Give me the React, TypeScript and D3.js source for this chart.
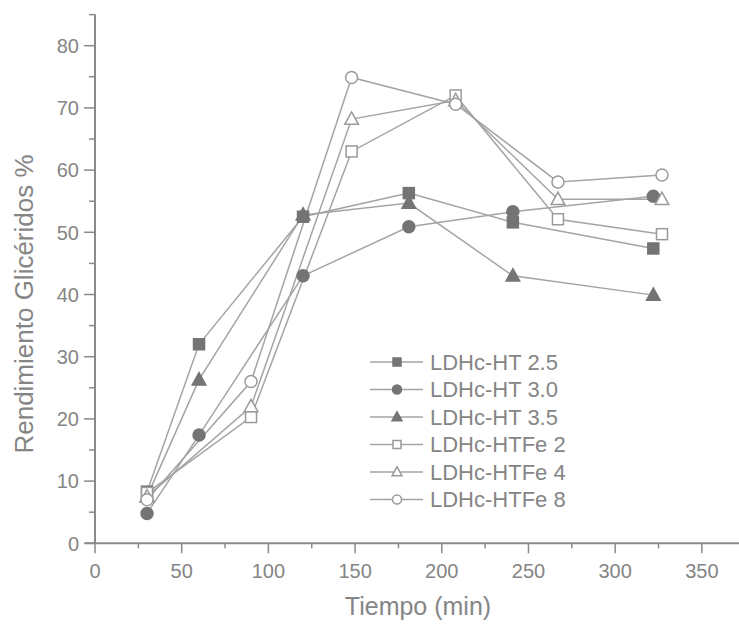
import React from "react";
import * as d3 from "d3";

const filledTime = [30, 60, 120, 181, 241, 322];
const openTime = [30, 90, 148, 208, 267, 327];

const ht25 = [8.3, 32.0, 52.5, 56.3, 51.6, 47.4];
const ht30 = [4.8, 17.4, 43.0, 50.9, 53.3, 55.8];
const ht35 = [7.5, 26.3, 52.8, 54.7, 43.0, 39.9];
const htfe2 = [8.1, 20.3, 63.0, 72.0, 52.1, 49.7];
const htfe4 = [7.5, 22.0, 68.2, 71.2, 55.3, 55.3];
const htfe8 = [7.0, 26.0, 74.9, 70.6, 58.1, 59.2];

const seriesNames = ["LDHc-HT 2.5", "LDHc-HT 3.0", "LDHc-HT 3.5", "LDHc-HTFe 2", "LDHc-HTFe 4", "LDHc-HTFe 8"];
const xTicks = [0, 50, 100, 150, 200, 250, 300, 350];
const yTicks = [0, 10, 20, 30, 40, 50, 60, 70, 80];

type Shape = "square" | "circle" | "triangle";
const series: { name: string; x: number[]; y: number[]; shape: Shape; filled: boolean }[] = [
  { name: seriesNames[0], x: filledTime, y: ht25, shape: "square", filled: true },
  { name: seriesNames[1], x: filledTime, y: ht30, shape: "circle", filled: true },
  { name: seriesNames[2], x: filledTime, y: ht35, shape: "triangle", filled: true },
  { name: seriesNames[3], x: openTime, y: htfe2, shape: "square", filled: false },
  { name: seriesNames[4], x: openTime, y: htfe4, shape: "triangle", filled: false },
  { name: seriesNames[5], x: openTime, y: htfe8, shape: "circle", filled: false },
];

const LINE = "#a4a4a4";
const DARK = "#747474";
const TEXT = "#858585";
const AXIS = "#8a8a8a";
const FONT = "'Liberation Sans', Arial, sans-serif";

function Marker({ cx, cy, shape, filled, s }: { cx: number; cy: number; shape: Shape; filled: boolean; s: number }) {
  const fill = filled ? DARK : "#ffffff";
  const stroke = filled ? DARK : "#9a9a9a";
  const sw = 1.5;
  if (shape === "square") {
    return <rect x={cx - s / 2} y={cy - s / 2} width={s} height={s} fill={fill} stroke={stroke} strokeWidth={sw} />;
  }
  if (shape === "circle") {
    return <circle cx={cx} cy={cy} r={s / 2 + 0.5} fill={fill} stroke={stroke} strokeWidth={sw} />;
  }
  const h = s * 1.05;
  const pts = `${cx},${cy - h * 0.62} ${cx + s * 0.62},${cy + h * 0.45} ${cx - s * 0.62},${cy + h * 0.45}`;
  return <polygon points={pts} fill={fill} stroke={stroke} strokeWidth={sw} />;
}

export default function App() {
  const W = 739;
  const H = 626;
  const x = d3.scaleLinear().domain([0, 372]).range([95, 740]);
  const y = d3.scaleLinear().domain([0, 85]).range([543.3, 14.6]);
  const line = d3.line<[number, number]>().x((d) => x(d[0])).y((d) => y(d[1]));

  const xMinor = d3.range(25, 375, 50);
  const yMinor = d3.range(5, 90, 10);

  const legX = 370;
  const legY0 = 362;
  const legStep = 27.5;

  return (
    <svg width={W} height={H} style={{ position: "absolute", left: 0, top: 0, background: "#fff" }} fontFamily={FONT}>
      {/* axes */}
      <line x1={x(0)} x2={x(0)} y1={y(85)} y2={y(0)} stroke={AXIS} strokeWidth={2} />
      <line x1={x(0) - 10} x2={W} y1={y(0)} y2={y(0)} stroke={AXIS} strokeWidth={2} />
      {yTicks.map((t) => (
        <g key={"yt" + t}>
          <line x1={x(0) - 11} x2={x(0)} y1={y(t)} y2={y(t)} stroke={AXIS} strokeWidth={1.5} />
          <text x={x(0) - 16} y={y(t)} dy="0.36em" textAnchor="end" fontSize={20} fill={TEXT}>
            {t}
          </text>
        </g>
      ))}
      {yMinor.map((t) => (
        <line key={"ym" + t} x1={x(0) - 6} x2={x(0)} y1={y(t)} y2={y(t)} stroke={AXIS} strokeWidth={1.5} />
      ))}
      {xTicks.map((t) => (
        <g key={"xt" + t}>
          <line x1={x(t)} x2={x(t)} y1={y(0)} y2={y(0) + 10} stroke={AXIS} strokeWidth={1.5} />
          <text x={x(t)} y={y(0) + 35} textAnchor="middle" fontSize={20} fill={TEXT}>
            {t}
          </text>
        </g>
      ))}
      {xMinor.map((t) => (
        <line key={"xm" + t} x1={x(t)} x2={x(t)} y1={y(0)} y2={y(0) + 5} stroke={AXIS} strokeWidth={1.5} />
      ))}
      <text x={418} y={615} textAnchor="middle" fontSize={25} fill={TEXT}>
        Tiempo (min)
      </text>
      <text transform={`translate(33,304) rotate(-90)`} textAnchor="middle" fontSize={26} fill={TEXT}>
        Rendimiento Glicéridos %
      </text>

      {/* lines */}
      {series.map((s) => (
        <path
          key={"l" + s.name}
          d={line(s.x.map((v, i) => [v, s.y[i]] as [number, number])) || ""}
          fill="none"
          stroke={LINE}
          strokeWidth={1.5}
        />
      ))}
      {/* markers */}
      {series.map((s) =>
        s.x.map((v, i) => (
          <Marker key={s.name + i} cx={x(v)} cy={y(s.y[i])} shape={s.shape} filled={s.filled} s={11} />
        ))
      )}

      {/* legend */}
      {series.map((s, i) => {
        const ly = legY0 + i * legStep;
        return (
          <g key={"lg" + s.name}>
            <line x1={legX} x2={legX + 53} y1={ly} y2={ly} stroke={LINE} strokeWidth={1.5} />
            <Marker cx={legX + 27} cy={ly} shape={s.shape} filled={s.filled} s={8} />
            <text x={legX + 60} y={ly} dy="0.36em" fontSize={22} fill={TEXT}>
              {s.name}
            </text>
          </g>
        );
      })}
    </svg>
  );
}
